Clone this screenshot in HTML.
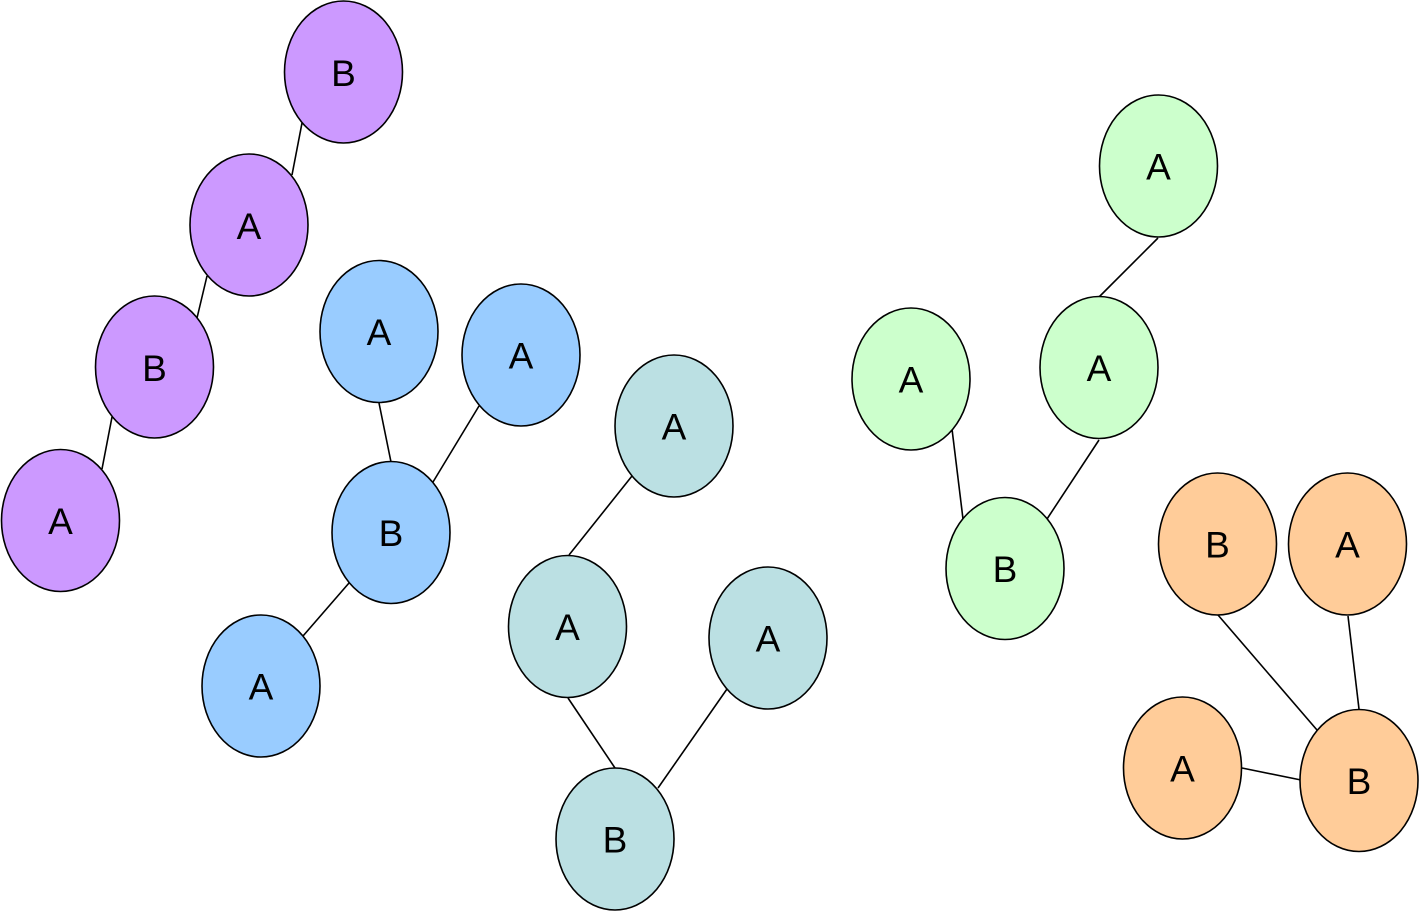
<!DOCTYPE html>
<html>
<head>
<meta charset="utf-8">
<style>
  html, body { margin: 0; padding: 0; background: #ffffff; }
  body { width: 1420px; height: 911px; overflow: hidden; }
  svg { display: block; }
  text { font-family: "Liberation Sans", Arial, sans-serif; font-size: 37px; fill: #000; text-anchor: middle; }
  ellipse { stroke: #000; stroke-width: 1.6; }
  line { stroke: #000; stroke-width: 1.6; }
</style>
</head>
<body>
<svg width="1420" height="911" viewBox="0 0 1420 911" xmlns="http://www.w3.org/2000/svg">
  <!-- edges -->
  <!-- purple -->
  <line x1="302" y1="123" x2="292" y2="175"/>
  <line x1="207" y1="276" x2="197" y2="318"/>
  <line x1="112" y1="417" x2="102" y2="469"/>
  <!-- blue -->
  <line x1="379" y1="403" x2="391" y2="462"/>
  <line x1="479" y1="406" x2="433" y2="482"/>
  <line x1="349" y1="583" x2="303" y2="636"/>
  <!-- teal -->
  <line x1="632" y1="476" x2="569" y2="555"/>
  <line x1="568" y1="698" x2="615" y2="768"/>
  <line x1="727" y1="689" x2="658" y2="788"/>
  <!-- green -->
  <line x1="1158" y1="238" x2="1099" y2="297"/>
  <line x1="952" y1="429" x2="963" y2="519"/>
  <line x1="1099" y1="440" x2="1047" y2="519"/>
  <!-- orange -->
  <line x1="1218" y1="615" x2="1317" y2="730"/>
  <line x1="1348" y1="616" x2="1359" y2="709"/>
  <line x1="1242" y1="768" x2="1301" y2="780"/>

  <!-- purple nodes -->
  <g fill="#CC99FF">
    <ellipse cx="343.5" cy="72" rx="59" ry="71"/>
    <ellipse cx="249" cy="225" rx="59" ry="71"/>
    <ellipse cx="154.5" cy="367" rx="59" ry="71"/>
    <ellipse cx="60.5" cy="520.5" rx="59" ry="71"/>
  </g>
  <text x="343.5" y="86">B</text>
  <text x="249" y="239">A</text>
  <text x="154.5" y="381">B</text>
  <text x="60.5" y="534">A</text>

  <!-- blue nodes -->
  <g fill="#99CCFF">
    <ellipse cx="379" cy="331.5" rx="59" ry="71"/>
    <ellipse cx="521" cy="355" rx="59" ry="71"/>
    <ellipse cx="391" cy="532.5" rx="59" ry="71"/>
    <ellipse cx="261" cy="686" rx="59" ry="71"/>
  </g>
  <text x="379" y="345">A</text>
  <text x="521" y="368.5">A</text>
  <text x="391" y="546">B</text>
  <text x="261" y="699.5">A</text>

  <!-- teal nodes -->
  <g fill="#BBE0E3">
    <ellipse cx="674" cy="426" rx="59" ry="71"/>
    <ellipse cx="567.5" cy="626.5" rx="59" ry="71"/>
    <ellipse cx="768" cy="638" rx="59" ry="71"/>
    <ellipse cx="615" cy="839" rx="59" ry="71"/>
  </g>
  <text x="674" y="439.5">A</text>
  <text x="567.5" y="640">A</text>
  <text x="768" y="651.5">A</text>
  <text x="615" y="852.5">B</text>

  <!-- green nodes -->
  <g fill="#CCFFCC">
    <ellipse cx="1158.5" cy="166" rx="59" ry="71"/>
    <ellipse cx="911" cy="379" rx="59" ry="71"/>
    <ellipse cx="1099" cy="367.5" rx="59" ry="71"/>
    <ellipse cx="1005" cy="568.5" rx="59" ry="71"/>
  </g>
  <text x="1158.5" y="179.5">A</text>
  <text x="911" y="392.5">A</text>
  <text x="1099" y="381">A</text>
  <text x="1005" y="582">B</text>

  <!-- orange nodes -->
  <g fill="#FFCC99">
    <ellipse cx="1217.5" cy="544" rx="59" ry="71"/>
    <ellipse cx="1347.5" cy="544" rx="59" ry="71"/>
    <ellipse cx="1182.5" cy="768" rx="59" ry="71"/>
    <ellipse cx="1359" cy="780.5" rx="59" ry="71"/>
  </g>
  <text x="1217.5" y="557.5">B</text>
  <text x="1347.5" y="557.5">A</text>
  <text x="1182.5" y="781.5">A</text>
  <text x="1359" y="794">B</text>
</svg>
</body>
</html>
